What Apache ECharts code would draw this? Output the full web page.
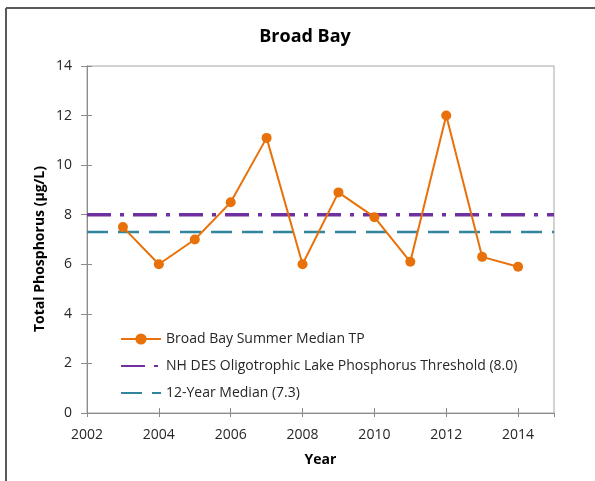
<!DOCTYPE html>
<html><head><meta charset="utf-8">
<script src="https://cdn.jsdelivr.net/npm/echarts@6/dist/echarts.min.js"></script>
<style>html,body{margin:0;padding:0;background:#fff}#c{width:595px;height:481px}</style>
</head><body><div id="c"></div>
<script>
const years = [2003,2004,2005,2006,2007,2008,2009,2010,2011,2012,2013,2014];
const tpValues = [7.5,6.0,7.0,8.5,11.1,6.0,8.9,7.9,6.1,12.0,6.3,5.9];
const thresholdValue = 8.0;
const medianValue = 7.3;
const xRange = [2002, 2015];
const seriesNames = ['Broad Bay Summer Median TP','NH DES Oligotrophic Lake Phosphorus Threshold (8.0)','12-Year Median (7.3)'];
const yAxisTitle = 'Total Phosphorus (µg/L)';

const FONT = 'Open Sans';
const chart = echarts.init(document.getElementById('c'), null, {renderer:'canvas'});
const axisCommon = {
  axisLine:{show:true,lineStyle:{color:'#8c8c8c',width:1}},
  splitLine:{show:false}
};
chart.setOption({
  animation:false,
  backgroundColor:'#fff',
  textStyle:{fontFamily:FONT},
  title:{text:'Broad Bay',left:300,top:23,textAlign:'center',
    textStyle:{fontFamily:FONT,fontSize:18,fontWeight:'bold',color:'#000'}},
  grid:{left:87,right:41,top:66,bottom:68,show:true,borderColor:'#a6a6a6',borderWidth:1,backgroundColor:'transparent'},
  legend:{orient:'vertical',left:115,top:327,itemWidth:40,itemHeight:14,itemGap:13,
    textStyle:{fontFamily:FONT,fontSize:14,color:'#262626'},
    data:[
      {name:seriesNames[0]},
      {name:seriesNames[1],itemStyle:{opacity:0}},
      {name:seriesNames[2],itemStyle:{opacity:0}}
    ]},
  xAxis:[
    Object.assign({type:'value',min:xRange[0],max:xRange[1],interval:2,position:'bottom',
      name:'Year',nameLocation:'middle',nameGap:40,
      nameTextStyle:{fontFamily:FONT,fontSize:14,fontWeight:'bold',color:'#000'},
      axisTick:{show:true,inside:true,length:5,lineStyle:{color:'#8c8c8c'}},
      axisLabel:{fontFamily:FONT,fontSize:14,color:'#262626',margin:15,showMaxLabel:false,
        formatter:v=>String(v)}},axisCommon),
    Object.assign({type:'value',min:xRange[0],max:xRange[1],interval:2,position:'bottom',offset:0,
      axisTick:{show:true,inside:false,length:4,lineStyle:{color:'#8c8c8c'}},
      axisLabel:{show:false}},axisCommon)
  ],
  yAxis:[
    Object.assign({type:'value',min:0,max:14,interval:2,position:'left',
      axisTick:{show:true,inside:false,length:6,lineStyle:{color:'#8c8c8c'}},
      axisLabel:{fontFamily:FONT,fontSize:14,color:'#262626',margin:15}},axisCommon),
    Object.assign({type:'value',min:0,max:14,interval:2,position:'left',offset:0,
      axisTick:{show:true,inside:true,length:5,lineStyle:{color:'#8c8c8c'}},
      axisLabel:{show:false}},axisCommon)
  ],
  series:[
    {name:seriesNames[1],type:'line',symbol:'none',z:2,
      data:xRange.map(x=>[x,thresholdValue]),
      itemStyle:{color:'#7030a0'},
      lineStyle:{color:'#7030a0',width:3.5,type:[24,9,4,9],cap:'butt'}},
    {name:seriesNames[2],type:'line',symbol:'none',z:2,
      data:xRange.map(x=>[x,medianValue]),
      itemStyle:{color:'#31859c'},
      lineStyle:{color:'#31859c',width:2.5,type:[21,10],cap:'butt'}},
    {name:seriesNames[0],type:'line',symbol:'circle',symbolSize:10,z:3,
      data:years.map((y,i)=>[y,tpValues[i]]),
      itemStyle:{color:'#e8710a'},
      lineStyle:{color:'#e8710a',width:2}}
  ],
  graphic:[
    {type:'line',shape:{x1:6,y1:8,x2:595,y2:8},style:{stroke:'#595959',lineWidth:2}},
    {type:'line',shape:{x1:6,y1:8,x2:6,y2:481},style:{stroke:'#595959',lineWidth:2}},
    {type:'text',x:40,y:249,rotation:Math.PI/2,
      style:{text:yAxisTitle,fontFamily:FONT,fontSize:14,fontWeight:'bold',fill:'#000',
        align:'center',verticalAlign:'middle'}}
  ]
});
</script></body></html>
